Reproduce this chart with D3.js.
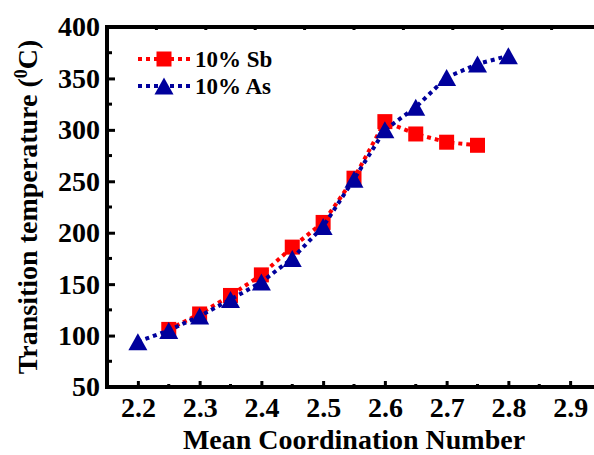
<!DOCTYPE html>
<html>
<head>
<meta charset="utf-8">
<script src="https://cdn.jsdelivr.net/npm/d3@7"></script>
<style>
  body { margin: 0; background: #fff; }
  svg { display: block; }
  text { font-family: "Liberation Serif", "Times New Roman", serif; font-weight: bold; fill: #000; }
</style>
</head>
<body>
<svg id="chart"></svg>
<script>
// data
const sbX = [2.25, 2.3, 2.35, 2.4, 2.45, 2.5, 2.55, 2.6, 2.65, 2.7, 2.75];
const sbTemp = [106, 121, 139, 159, 186, 210, 253, 308, 296, 288, 285];
const asX = [2.2, 2.25, 2.3, 2.35, 2.4, 2.45, 2.5, 2.55, 2.6, 2.65, 2.7, 2.75, 2.8];
const asTemp = [94, 105, 119, 135, 152, 175, 206, 252, 300, 322, 351, 364, 372];
const yTicks = [50, 100, 150, 200, 250, 300, 350, 400];
const yMinor = [75, 125, 175, 225, 275, 325, 375];
const xTicks = [2.2, 2.3, 2.4, 2.5, 2.6, 2.7, 2.8, 2.9];
const xMinor = [2.25, 2.35, 2.45, 2.55, 2.65, 2.75, 2.85];
const topTicks = [1, 2, 3, 4, 5, 6, 7, 8, 9];
const seriesNames = ['10% Sb', '10% As'];

const W = 594, H = 455;
const plot = { left: 107, right: 601, top: 27, bottom: 387 };

const svg = d3.select('#chart').attr('width', W).attr('height', H);

const x = d3.scaleLinear().domain([2.15, 2.95]).range([plot.left, plot.right]);
const y = d3.scaleLinear().domain([50, 400]).range([plot.bottom, plot.top]);
const xTop = d3.scaleLinear().domain([0, 10]).range([plot.left, plot.right]);

const red = '#ff0000', blue = '#00009c';

// series
const line = d3.line().x(d => x(d[0])).y(d => y(d[1]));
const sb = sbX.map((v, i) => [v, sbTemp[i]]);
const as = asX.map((v, i) => [v, asTemp[i]]);

const sq = 15, triW = 19, triH = 17;
const triPath = (cx, cy) => `M${cx},${cy - triH / 2}L${cx + triW / 2},${cy + triH / 2}L${cx - triW / 2},${cy + triH / 2}Z`;

svg.append('path').datum(sb)
  .attr('d', line).attr('fill', 'none').attr('stroke', red)
  .attr('stroke-width', 4).attr('stroke-dasharray', '4,4');
svg.append('g').selectAll('rect').data(sb).enter().append('rect')
  .attr('x', d => x(d[0]) - sq / 2).attr('y', d => y(d[1]) - sq / 2)
  .attr('width', sq).attr('height', sq).attr('fill', red);

svg.append('path').datum(as)
  .attr('d', line).attr('fill', 'none').attr('stroke', blue)
  .attr('stroke-width', 4).attr('stroke-dasharray', '4,4');
svg.append('g').selectAll('path').data(as).enter().append('path')
  .attr('d', d => triPath(x(d[0]), y(d[1]))).attr('fill', blue);

// axes
const yAxis = svg.append('g').attr('transform', `translate(${plot.left},0)`)
  .call(d3.axisLeft(y).tickValues(yTicks).tickSizeInner(-8).tickSizeOuter(0).tickPadding(7));
const xAxis = svg.append('g').attr('transform', `translate(0,${plot.bottom})`)
  .call(d3.axisBottom(x).tickValues(xTicks).tickFormat(d3.format('.1f')).tickSizeInner(-6).tickSizeOuter(0).tickPadding(10));
[yAxis, xAxis].forEach(g => {
  g.select('.domain').remove();
  g.selectAll('line').attr('stroke', '#000').attr('stroke-width', 3);
  g.selectAll('text').style('font-size', '28px');
});

svg.append('g').selectAll('line').data(yMinor).enter().append('line')
  .attr('x1', plot.left).attr('x2', plot.left + 5).attr('y1', d => y(d)).attr('y2', d => y(d))
  .attr('stroke', '#000').attr('stroke-width', 3);
svg.append('g').selectAll('line').data(xMinor).enter().append('line')
  .attr('x1', d => x(d)).attr('x2', d => x(d)).attr('y1', plot.bottom).attr('y2', plot.bottom - 3)
  .attr('stroke', '#000').attr('stroke-width', 3);
svg.append('g').selectAll('line').data(topTicks).enter().append('line')
  .attr('x1', d => xTop(d)).attr('x2', d => xTop(d)).attr('y1', plot.top).attr('y2', plot.top + 3)
  .attr('stroke', '#000').attr('stroke-width', 3);

// frame
svg.append('path')
  .attr('d', `M${W + 5},${plot.top}H${plot.left}V${plot.bottom}H${W + 5}`)
  .attr('fill', 'none').attr('stroke', '#000').attr('stroke-width', 4);

// titles
svg.append('text').attr('x', (plot.left + plot.right) / 2).attr('y', 449)
  .attr('text-anchor', 'middle').style('font-size', '28px')
  .text('Mean Coordination Number');

const yt = svg.append('text').attr('transform', `translate(37,${(plot.top + plot.bottom) / 2}) rotate(-90)`)
  .attr('text-anchor', 'middle').style('font-size', '28px');
yt.append('tspan').text('Transition temperature (');
yt.append('tspan').attr('dy', -10).style('font-size', '18px').text('0');
yt.append('tspan').attr('dy', 10).text('C)');

// legend
const legend = svg.append('g');
const legY = [59, 86];
const legColors = [red, blue];
seriesNames.forEach((name, i) => {
  legend.append('line').attr('x1', 138).attr('x2', 190).attr('y1', legY[i]).attr('y2', legY[i])
    .attr('stroke', legColors[i]).attr('stroke-width', 4).attr('stroke-dasharray', '4,4');
  if (i === 0) {
    legend.append('rect').attr('x', 164 - sq / 2).attr('y', legY[i] - sq / 2)
      .attr('width', sq).attr('height', sq).attr('fill', red);
  } else {
    legend.append('path').attr('d', triPath(164, legY[i])).attr('fill', blue);
  }
  legend.append('text').attr('x', 195).attr('y', legY[i]).attr('dy', '0.35em')
    .style('font-size', '23px').text(name);
});
</script>
</body>
</html>
